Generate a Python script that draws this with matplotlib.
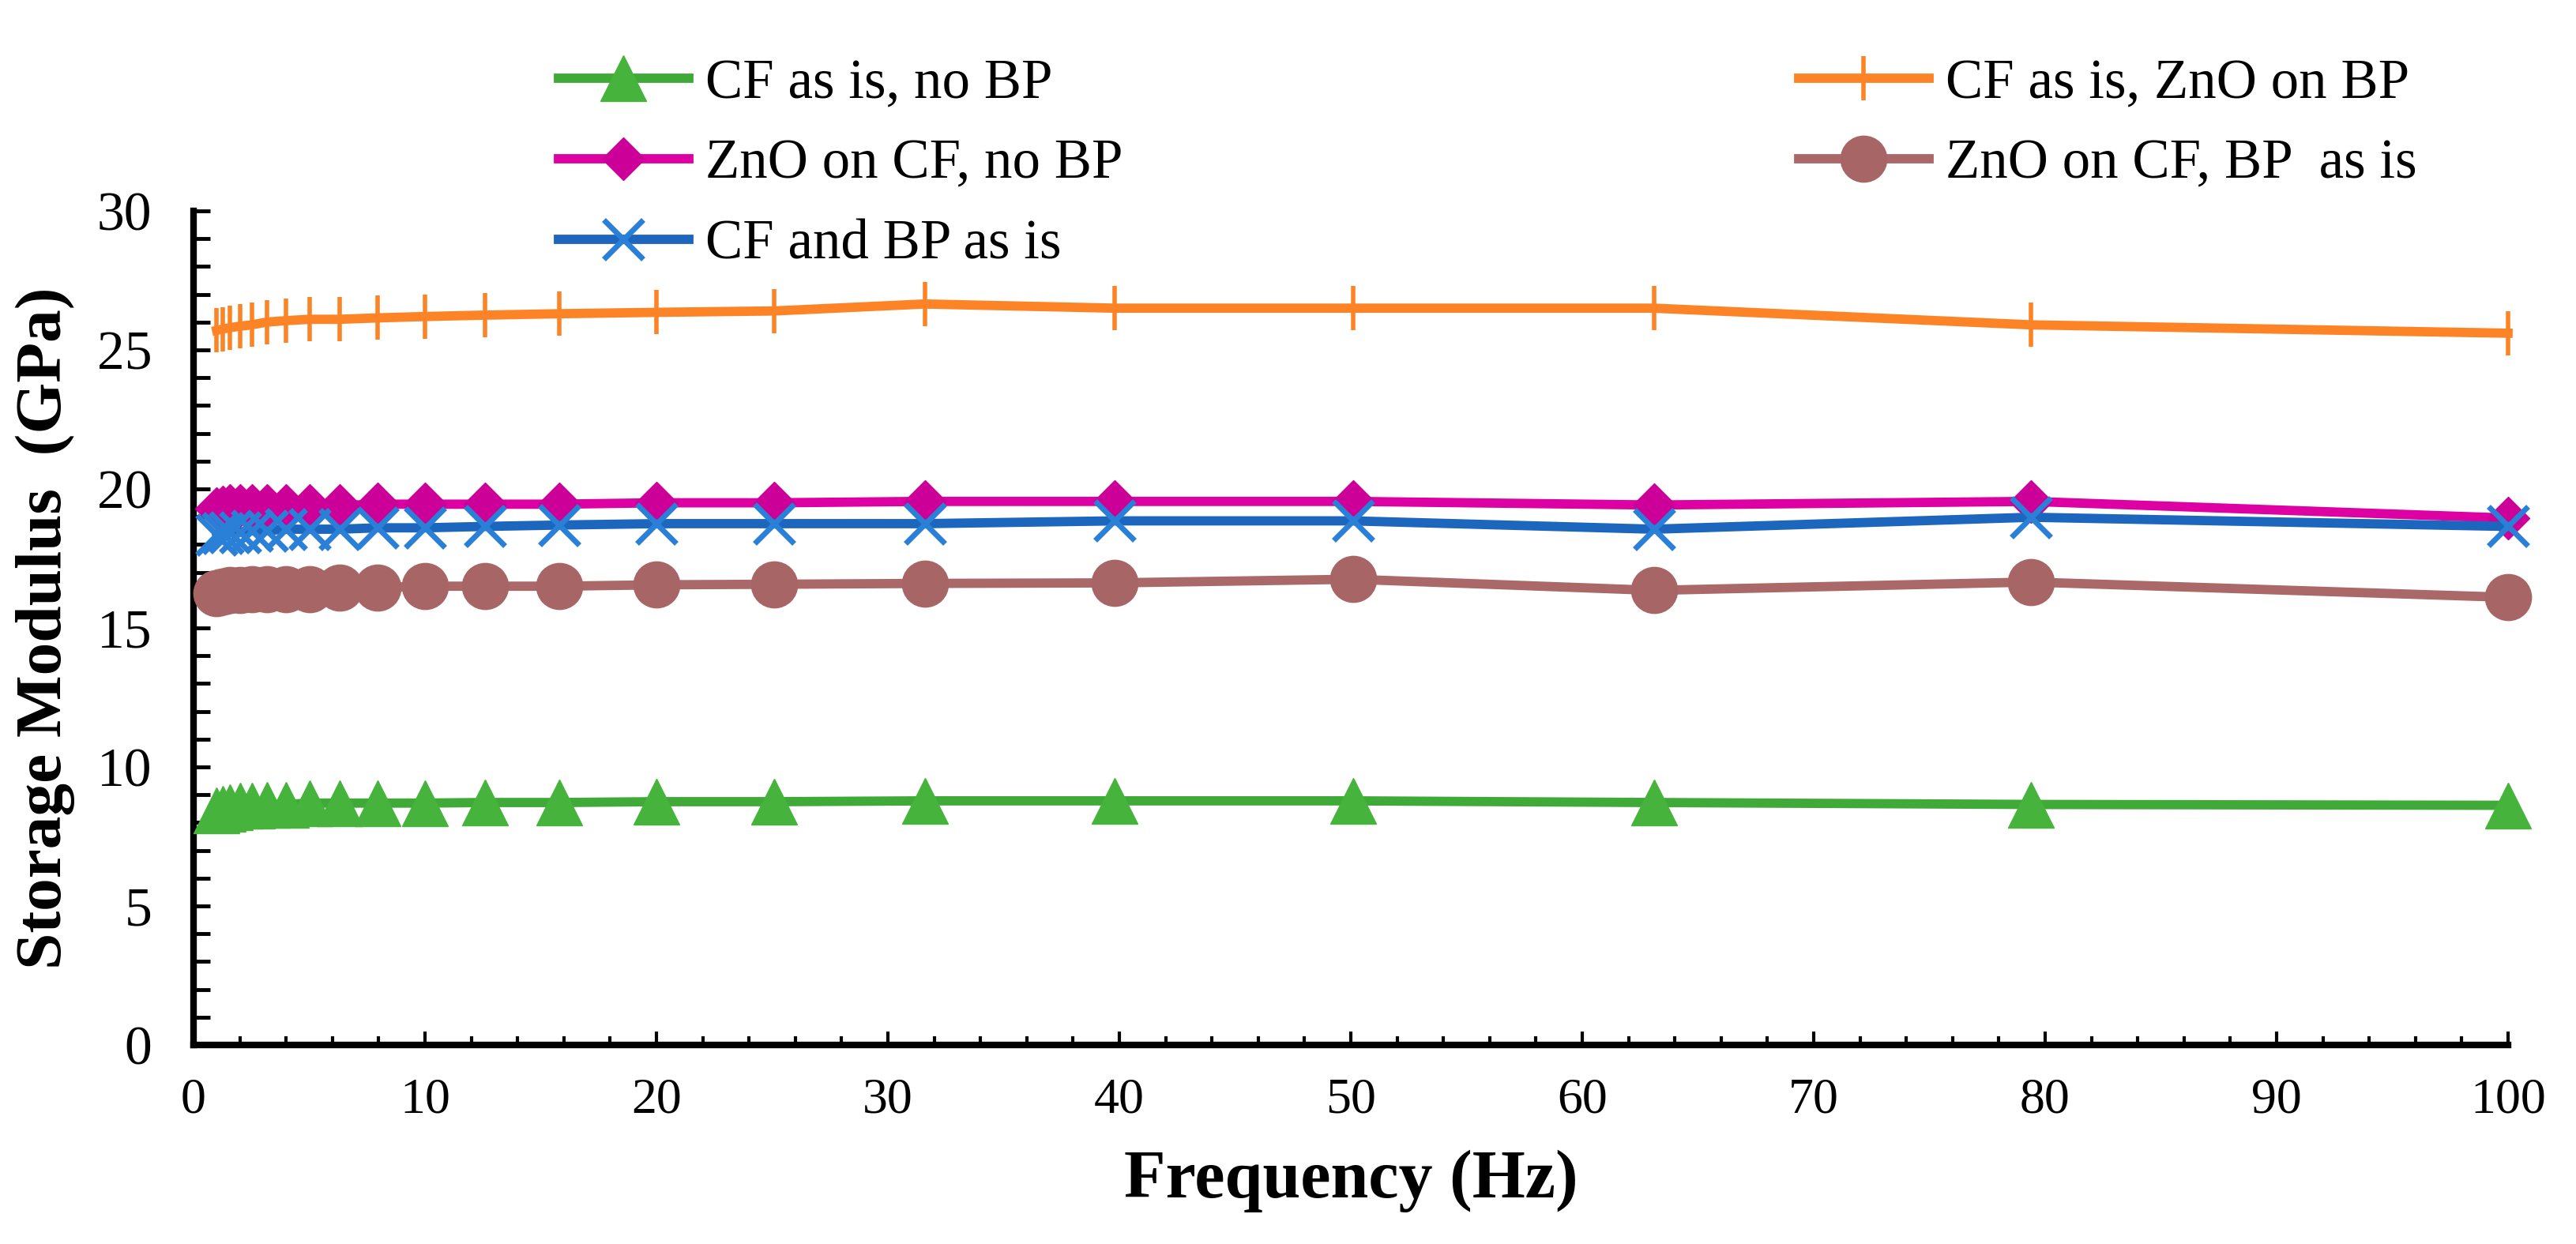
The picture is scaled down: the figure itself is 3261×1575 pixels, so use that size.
import matplotlib
matplotlib.use("Agg")
import matplotlib.pyplot as plt
from matplotlib.ticker import MultipleLocator

freq = [1, 1.26, 1.58, 2, 2.51, 3.16, 3.98, 5.01, 6.31, 7.94, 10,
        12.6, 15.8, 20, 25.1, 31.6, 39.8, 50.1, 63.1, 79.4, 100]

cf_no_bp = [8.45, 8.5, 8.55, 8.6, 8.6, 8.65, 8.65, 8.7, 8.7, 8.7, 8.7,
            8.72, 8.72, 8.75, 8.75, 8.78, 8.78, 8.78, 8.72, 8.65, 8.62]
cf_zno_bp = [25.7, 25.75, 25.8, 25.85, 25.9, 26.0, 26.05, 26.1, 26.1, 26.15, 26.2,
             26.25, 26.3, 26.35, 26.4, 26.65, 26.5, 26.5, 26.5, 25.9, 25.6]
zno_cf_no_bp = [19.3, 19.35, 19.4, 19.4, 19.4, 19.4, 19.4, 19.4, 19.4, 19.45, 19.45,
                19.45, 19.45, 19.5, 19.5, 19.55, 19.55, 19.55, 19.42, 19.55, 18.95]
zno_cf_bp = [16.25, 16.3, 16.35, 16.35, 16.4, 16.4, 16.4, 16.4, 16.45, 16.45, 16.5,
             16.5, 16.5, 16.55, 16.57, 16.6, 16.62, 16.75, 16.35, 16.65, 16.1]
cf_bp = [18.35, 18.4, 18.45, 18.45, 18.5, 18.5, 18.55, 18.55, 18.55, 18.6, 18.6,
         18.65, 18.7, 18.75, 18.75, 18.75, 18.85, 18.85, 18.55, 18.98, 18.65]

labels = ["CF as is, no BP", "CF as is, ZnO on BP", "ZnO on CF, no BP",
          "ZnO on CF, BP  as is", "CF and BP as is"]

plt.rcParams['font.family'] = ['Liberation Serif', 'DejaVu Serif']

fig = plt.figure(figsize=(32.62, 15.75), dpi=100)
ax = fig.add_axes([0.0751, 0.160, 0.8982, 0.6705])

lw = 8.5
h1, = ax.plot(freq, cf_no_bp, color='#3FAA38', lw=lw, marker='^', ms=42,
              mfc='#46B43C', mec='#46B43C', clip_on=False, zorder=3)
h2, = ax.plot(freq, cf_zno_bp, color='#FD8426', lw=lw, marker='|', ms=40,
              mew=4, mec='#FD8426', clip_on=False, zorder=3)
h3, = ax.plot(freq, zno_cf_no_bp, color='#DD00A2', lw=lw, marker='D', ms=27,
              mfc='#CC0099', mec='#CC0099', clip_on=False, zorder=3)
h4, = ax.plot(freq, zno_cf_bp, color='#AA6868', lw=lw, marker='o', ms=42,
              mfc='#A86565', mec='#A86565', clip_on=False, zorder=3)
h5, = ax.plot(freq, cf_bp, color='#1C66BE', lw=lw, marker='x', ms=36,
              mew=5, mec='#2A80D6', clip_on=False, zorder=3)

ax.set_xlim(0, 100)
ax.set_ylim(0, 30)
ax.xaxis.set_major_locator(MultipleLocator(10))
ax.xaxis.set_minor_locator(MultipleLocator(2))
ax.yaxis.set_major_locator(MultipleLocator(5))
ax.yaxis.set_minor_locator(MultipleLocator(1))

for s in ['top', 'right']:
    ax.spines[s].set_visible(False)
for s in ['left', 'bottom']:
    ax.spines[s].set_linewidth(6)
    ax.spines[s].set_color('black')

ax.tick_params(axis='x', which='major', direction='in', length=12, width=3,
               labelsize=46, pad=30)
ax.tick_params(axis='x', which='minor', direction='in', length=8, width=3)
ax.tick_params(axis='y', which='both', direction='in', length=15, width=3.5,
               labelsize=50, pad=38)

ax.set_xlabel("Frequency (Hz)", fontsize=62, fontweight='bold', labelpad=24)
ax.set_ylabel("Storage Modulus  (GPa)", fontsize=60, fontweight='bold', labelpad=20)

leg_kw = dict(loc='upper left', frameon=False, fontsize=51, handlelength=2.33,
              handletextpad=0.3, labelspacing=0.52, borderpad=0, borderaxespad=0)
fig.legend([h1, h3, h5], [labels[0], labels[2], labels[4]],
           bbox_to_anchor=(0.2167, 0.953), **leg_kw)
fig.legend([h2, h4], [labels[1], labels[3]],
           bbox_to_anchor=(0.698, 0.953), **leg_kw)

fig.savefig("out.png", dpi=100)
